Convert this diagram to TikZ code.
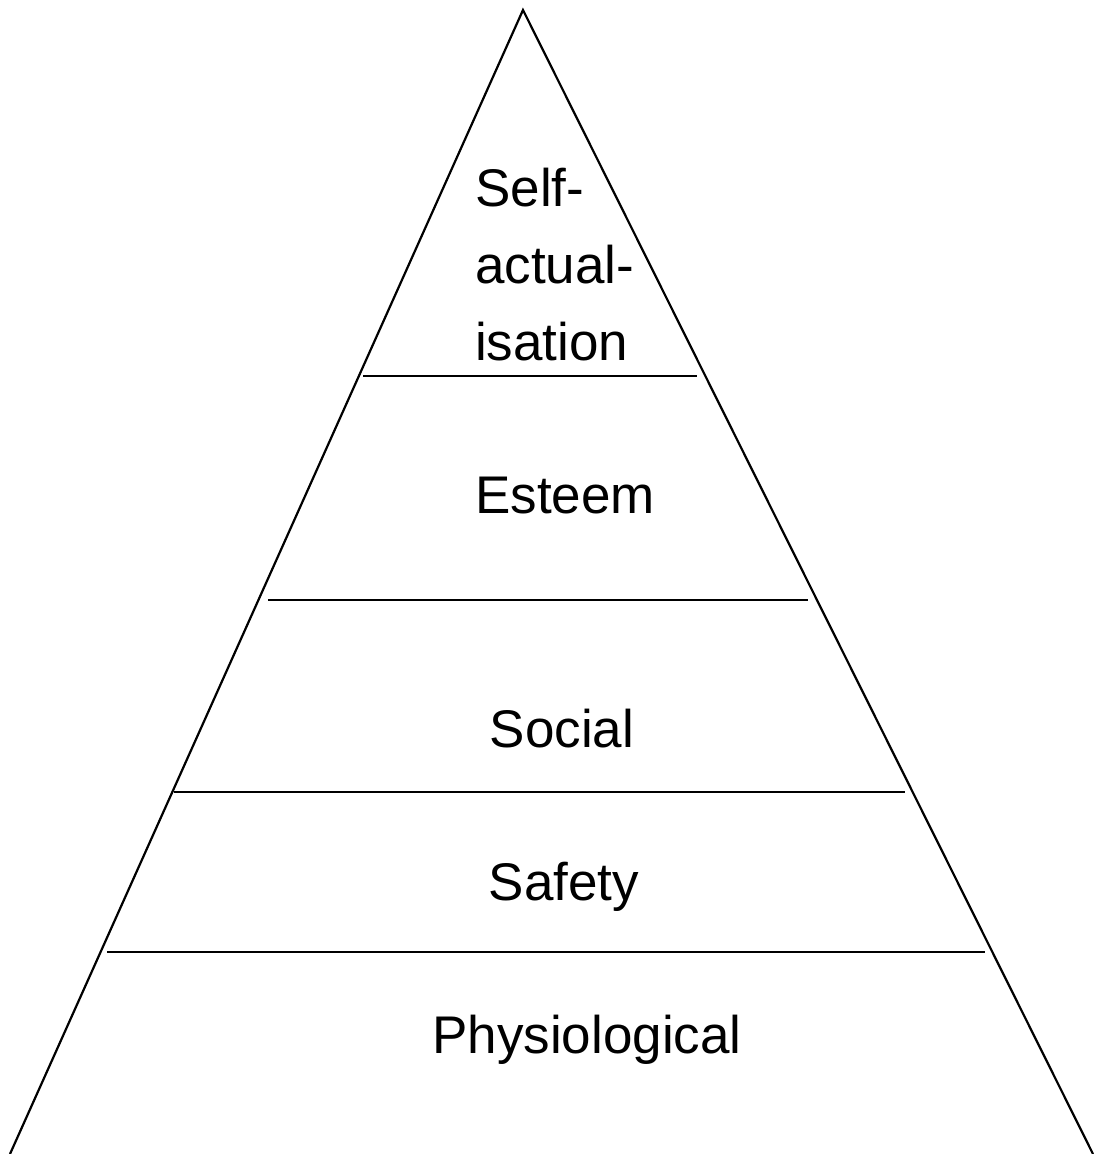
\documentclass[tikz,border=0pt]{standalone}
\usepackage{fontspec}
\setmainfont{Liberation Sans}
\usepackage{tikz}
\usetikzlibrary{positioning}
\tikzset{level/.style ={font=\fontsize{53}{77}\selectfont, inner sep=0pt, anchor=base}}
\tikzset{edge/.style ={line width=2.2pt}}

\begin{document}
\begin{tikzpicture}[x=1pt,y=-1pt]
\useasboundingbox (0,0) rectangle (1093,1154);
\coordinate (top) at (523,10);
\coordinate (bl) at (10,1154);
\coordinate (br) at (1093,1154);
\draw[edge] (bl) -- (top) -- (br);
\coordinate (l1) at (363,376); \coordinate (r1) at (697,376);
\coordinate (l2) at (268,600); \coordinate (r2) at (808,600);
\coordinate (l3) at (174,792); \coordinate (r3) at (905,792);
\coordinate (l4) at (107,952); \coordinate (r4) at (985,952);
\draw[edge] (l1) -- (r1);
\draw[edge] (l2) -- (r2);
\draw[edge] (l3) -- (r3);
\draw[edge] (l4) -- (r4);
\node [level, anchor=base west, align=left] (self) at (475,360) {Self-\\actual-\\isation};
\node [level] (esteem) at (565,513) {Esteem};
\node [level] (social) at (562,747) {Social};
\node [level] (safety) at (564,900) {Safety};
\node [level] (physio) at (587,1053) {Physiological};
\end{tikzpicture}
\end{document}
